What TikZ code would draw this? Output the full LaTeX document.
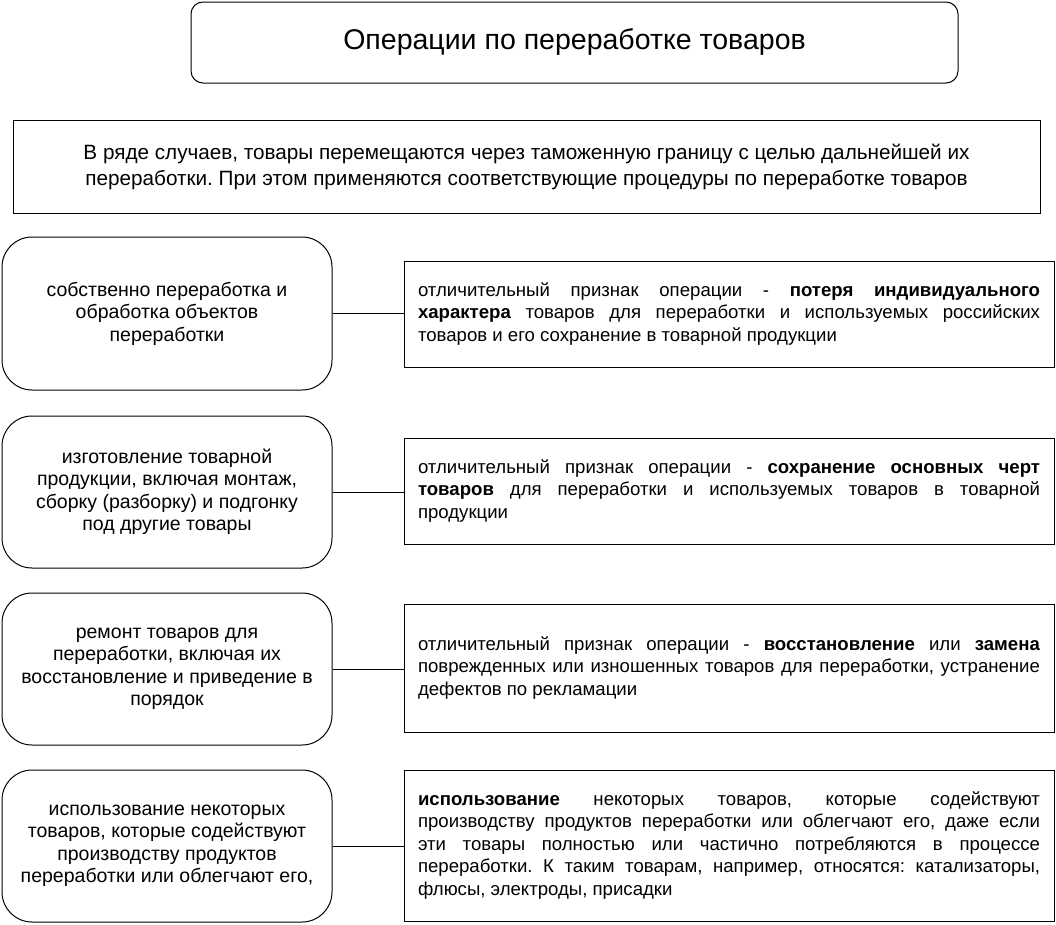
\documentclass[tikz,border=0pt]{standalone}
\usepackage{fontspec}
\setmainfont{Liberation Sans}
\tolerance=10000
\hyphenpenalty=10000
\frenchspacing
\tikzset{
  box/.style={draw, line width=1pt, inner sep=0pt, font=\fontsize{18.6}{22.5}\selectfont},
  lbox/.style={box, rounded corners=30pt, minimum width=330pt, minimum height=152pt, align=center,
               font=\fontsize{19.5}{22.5}\selectfont},
  rbox/.style={box, text width=622pt, inner xsep=14pt, minimum height=106pt, align=justify},
  link/.style={line width=1pt}
}
\begin{document}
\begin{tikzpicture}[x=1pt, y=-1pt]
\useasboundingbox (0,0) rectangle (1056,924);

\node[draw, line width=1pt, rounded corners=12pt, minimum width=767pt, minimum height=81pt,
      font=\fontsize{28.5}{32}\selectfont] (title) at (574.5,42.5) {Операции по переработке товаров};

\node[draw, line width=1pt, minimum width=1027pt, minimum height=93pt, align=center,
      font=\fontsize{20.7}{26}\selectfont] (intro) at (526.5,167)
  {В ряде случаев, товары перемещаются через таможенную границу с целью дальнейшей их\\
   переработки. При этом применяются соответствующие процедуры по переработке товаров};

\node[lbox, minimum height=153pt] (L1) at (167,313.5) {собственно переработка и\\обработка объектов\\переработки};
\node[lbox] (L2) at (167,492) {изготовление товарной\\продукции, включая монтаж,\\сборку (разборку) и подгонку\\под другие товары};
\node[lbox] (L3) at (167,669) {ремонт товаров для\\переработки, включая их\\восстановление и приведение в\\порядок};
\node[lbox] (L4) at (167,846) {использование некоторых\\товаров, которые содействуют\\производству продуктов\\переработки или облегчают его,};

\node[rbox] (R1) at (729,314) {отличительный признак операции - \textbf{потеря индивидуального}\linebreak
  \textbf{характера} товаров для переработки и используемых российских\linebreak
  товаров и его сохранение в товарной продукции};
\node[rbox] (R2) at (729,491) {отличительный признак операции - \textbf{сохранение основных черт}\linebreak
  \textbf{товаров} для переработки и используемых товаров в товарной\linebreak
  продукции};
\node[rbox, minimum height=128pt] (R3) at (729,668) {отличительный признак операции - \textbf{восстановление} или \textbf{замена}\linebreak
  поврежденных или изношенных товаров для переработки, устранение\linebreak
  дефектов по рекламации};
\node[rbox, minimum height=151pt] (R4) at (729,845.5) {\textbf{использование} некоторых товаров, которые содействуют\linebreak
  производству продуктов переработки или облегчают его, даже если\linebreak
  эти товары полностью или частично потребляются в процессе\linebreak
  переработки. К таким товарам, например, относятся: катализаторы,\linebreak
  флюсы, электроды, присадки};

\draw[link] (L1.east) -- (L1.east -| R1.west);
\draw[link] (L2.east) -- (L2.east -| R2.west);
\draw[link] (L3.east) -- (L3.east -| R3.west);
\draw[link] (L4.east) -- (L4.east -| R4.west);
\end{tikzpicture}
\end{document}
